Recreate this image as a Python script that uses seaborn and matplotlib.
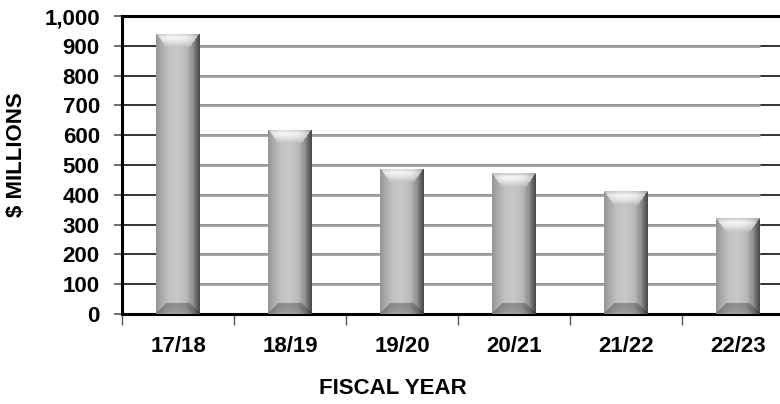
import numpy as np
import pandas as pd
import matplotlib
matplotlib.use("Agg")
import matplotlib.pyplot as plt
import seaborn as sns

categories = ["17/18", "18/19", "19/20", "20/21", "21/22", "22/23"]
values = [940, 618, 487, 472, 412, 322]
yticks = [0, 100, 200, 300, 400, 500, 600, 700, 800, 900, 1000]
ytick_labels = ["0", "100", "200", "300", "400", "500", "600", "700", "800", "900", "1,000"]

sns.set_theme(style="white")
plt.rcParams["font.family"] = ["Liberation Sans", "DejaVu Sans"]
plt.rcParams["font.weight"] = "bold"
plt.rcParams["text.color"] = "black"
plt.rcParams["xtick.color"] = "black"
plt.rcParams["ytick.color"] = "black"
plt.rcParams["xtick.labelcolor"] = "black"
plt.rcParams["ytick.labelcolor"] = "black"

W, H = 780, 404
fig = plt.figure(figsize=(W / 100, H / 100), dpi=100)
ax = fig.add_axes([122 / W, (H - 314) / H, 672 / W, 298 / H])

df = pd.DataFrame({"year": categories, "value": values})
sns.barplot(data=df, x="year", y="value", ax=ax, color="#b8b8b8", width=0.39,
            edgecolor="none", zorder=3)
ax.set_xlim(-0.5, 5.5)
ax.set_ylim(0, 1000)

# gridlines: dark at edges, gray between first and last bar
for t in yticks[1:-1]:
    ax.axhline(t, color="#111111", lw=1.2, zorder=1)
    ax.hlines(t, -0.195, 5.195, color="#a0a0a0", lw=2.0, zorder=2)


def shade_img(wpx, hpx, bev_t=14, bev_b=11):
    xs = np.arange(wpx) + 0.5
    ys = np.arange(hpx) + 0.5
    X, Y = np.meshgrid(xs, ys)
    u = X / wpx
    gx = np.interp(u, [0, 0.08, 0.3, 0.5, 0.7, 0.85, 0.93, 1.0],
                   [0.58, 0.64, 0.76, 0.78, 0.72, 0.55, 0.38, 0.28])
    img = gx.copy()
    dl, dr = X, wpx - X
    dt, db = Y, hpx - Y
    side = np.minimum(dl, dr) * (bev_t / 10.0)
    side_b = np.minimum(dl, dr) * (bev_b / 10.0)
    top = (dt < bev_t) & (dt < side)
    bot = (db < bev_b) & (db < side_b)
    ft = dt / bev_t
    tb = np.interp(ft, [0, 0.3, 0.55, 1.0], [0.80, 0.97, 0.92, 0.76])
    tshade = np.clip(tb * (0.6 + 0.4 * gx / 0.78), 0, 0.98)
    img = np.where(top, tshade, img)
    fb = db / bev_b
    bshade = gx * np.interp(fb, [0, 0.4, 1.0], [0.82, 0.76, 0.72])
    img = np.where(bot, bshade, img)
    rgb = np.dstack([img, img, img])
    return rgb


fig.canvas.draw()
for p in ax.patches:
    x0, y0 = p.get_x(), p.get_y()
    w, h = p.get_width(), p.get_height()
    (px0, py0) = ax.transData.transform((x0, y0))
    (px1, py1) = ax.transData.transform((x0 + w, y0 + h))
    wpx = max(int(round(px1 - px0)), 2)
    hpx = max(int(round(py1 - py0)), 2)
    im = ax.imshow(shade_img(wpx, hpx), extent=(x0, x0 + w, y0, y0 + h),
                   aspect="auto", origin="upper", zorder=4, interpolation="bilinear")
    im.set_clip_path(p)
    p.set_alpha(0)

ax.set_xlim(-0.5, 5.5)
ax.set_ylim(0, 1000)

for s in ["left", "bottom", "top"]:
    ax.spines[s].set_visible(True)
    ax.spines[s].set_color("black")
    ax.spines[s].set_linewidth(2.2)
ax.spines["right"].set_visible(False)

ax.set_yticks(yticks)
ax.set_yticklabels(ytick_labels, fontsize=16, fontweight="bold", color="black")
ax.set_xticks(range(len(categories)))
ax.set_xticklabels(categories, fontsize=16, fontweight="bold", color="black")
ax.set_xticks(np.arange(-0.5, 5.6, 1.0), minor=True)
ax.tick_params(axis="y", which="major", left=True, length=6, width=1.2,
               color="#555555", pad=10)
ax.tick_params(axis="x", which="major", bottom=False, pad=10)
ax.tick_params(axis="x", which="minor", bottom=True, length=8, width=1,
               color="#555555")

ax.set_xlabel("")
ax.set_ylabel("")
fig.text(393 / W, 1 - 389 / H, "FISCAL YEAR", fontsize=16, fontweight="bold",
         ha="center", va="center", color="black")
fig.text(17 / W, 1 - 155 / H, "$ MILLIONS", fontsize=16, fontweight="bold",
         ha="center", va="center", rotation=90, color="black")

fig.savefig("out.png", dpi=100)
